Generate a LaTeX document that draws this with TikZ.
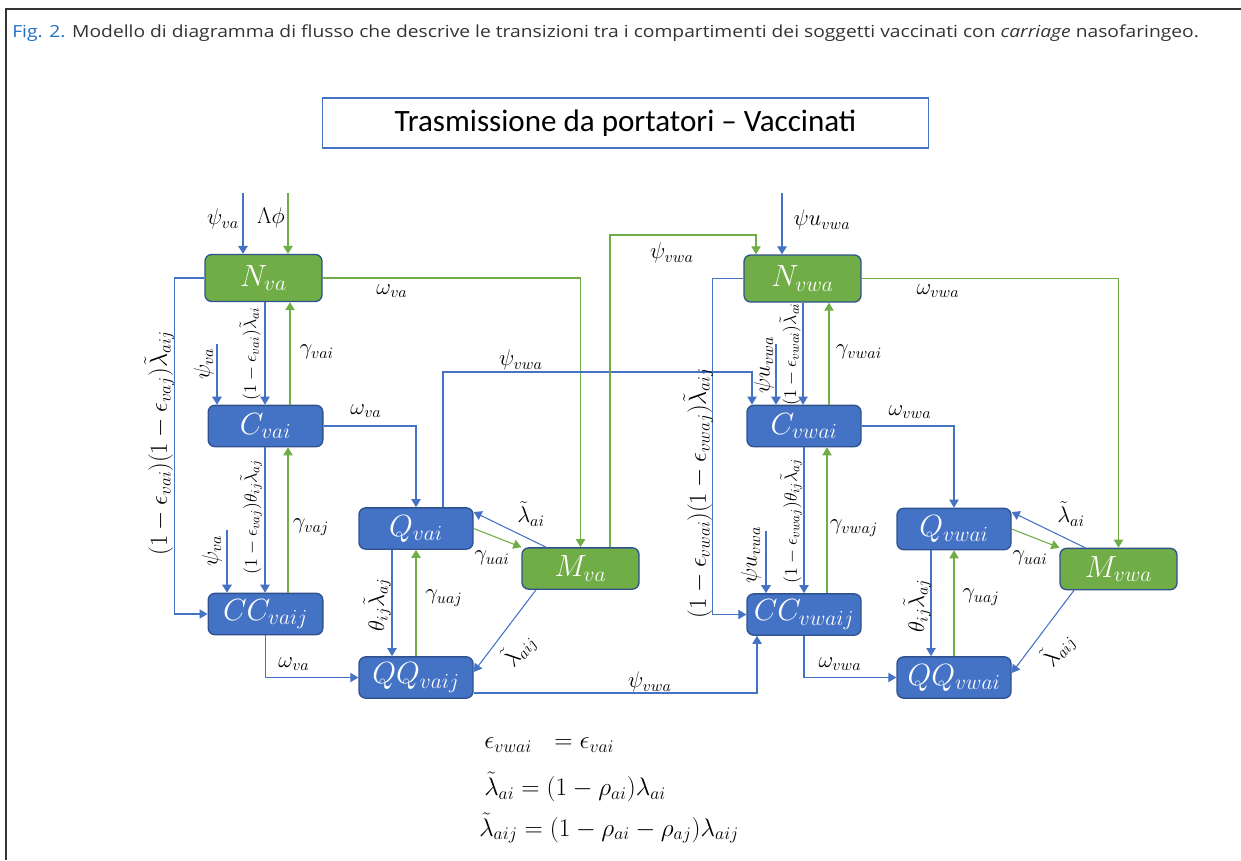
\RequirePackage{fix-cm}
\documentclass[tikz,border=0pt]{standalone}
\usepackage{fontspec}
\usetikzlibrary{arrows.meta,calc}
\newfontfamily\capfont[FakeStretch=1.155]{Open Sans}
\newfontfamily\titfont{Carlito}
\definecolor{bluec}{HTML}{4472C4}
\definecolor{greenc}{HTML}{70AD47}
\definecolor{bord}{HTML}{2F528F}
\definecolor{figblue}{HTML}{1F6FC0}
\definecolor{captxt}{HTML}{333333}
\tikzset{
 box/.style={rounded corners=5pt, draw=bord, line width=1pt, text=white, inner sep=0pt, font=\fontsize{23}{23}\selectfont, minimum height=31pt},
 bbox/.style={box, fill=bluec},
 gbox/.style={box, fill=greenc},
 tip/.style={-{Triangle[width=7pt,length=6pt]}},
 thb/.style={draw=bluec, line width=1.8pt, tip},
 thg/.style={draw=greenc, line width=1.8pt, tip},
 bl/.style={draw=bluec, line width=0.8pt, tip},
 gr/.style={draw=greenc, line width=0.8pt, tip},
 lab/.style={font=\fontsize{17}{17}\selectfont, inner sep=1pt},
 biglab/.style={font=\fontsize{18.5}{18.5}\selectfont, inner sep=1pt, rotate=90},
 slab/.style={font=\fontsize{13.5}{13.5}\selectfont, inner sep=1pt, rotate=90},
 flab/.style={font=\fontsize{19}{19}\selectfont, inner sep=0pt, anchor=west},
}
\begin{document}
\begin{tikzpicture}[x=0.75pt,y=-0.75pt]
\useasboundingbox (0,0) rectangle (1241,860);
\draw[draw=captxt, line width=1.2pt] (6,860) -- (6,9) -- (1241,9);
\node[anchor=west, inner sep=0pt, font=\capfont\fontsize{12.5}{14}\selectfont, text=captxt] (cap) at (12,33)
 {\textcolor{figblue}{Fig. 2.} Modello di diagramma di flusso che descrive le transizioni tra i compartimenti dei soggetti vaccinati con \textit{carriage} nasofaringeo.};
\node[draw=bluec, line width=0.8pt, minimum width=455pt, minimum height=37.5pt, inner sep=0pt, font=\titfont\fontsize{23.3}{23.3}\selectfont] (title) at (625.5,123) {Trasmissione da portatori – Vaccinati};

% boxes
\node[gbox, minimum width=87.75pt, minimum height=35.25pt] (Nva) at (263.5,278) {$N_{va}$};
\node[bbox, minimum width=86pt] (Cvai) at (265.5,426) {$C_{vai}$};
\node[bbox, minimum width=86pt] (CCvaij) at (265.5,614) {$CC_{vaij}$};
\node[bbox, minimum width=85.5pt] (Qvai) at (416,528.5) {$Q_{vai}$};
\node[bbox, minimum width=85.5pt] (QQvaij) at (416,677.5) {$QQ_{vaij}$};
\node[gbox, minimum width=87.75pt] (Mva) at (580.5,568.5) {$M_{va}$};
\node[gbox, minimum width=87.75pt, minimum height=35.25pt] (Nvwa) at (802.5,278.5) {$N_{vwa}$};
\node[bbox, minimum width=85.5pt] (Cvwai) at (804,426) {$C_{vwai}$};
\node[bbox, minimum width=85.5pt] (CCvwaij) at (804,614.5) {$CC_{vwaij}$};
\node[bbox, minimum width=85.5pt] (Qvwai) at (954,529) {$Q_{vwai}$};
\node[bbox, minimum width=85.5pt] (QQvwai) at (954,677.5) {$QQ_{vwai}$};
\node[gbox, minimum width=87.75pt] (Mvwa) at (1118.5,569) {$M_{vwa}$};

% ---------- left part
\coordinate (iNva1) at (243,193);
\coordinate (iNva2) at (288,193);
\draw[thb] (iNva1) -- (Nva.north -| iNva1);
\draw[thg] (iNva2) -- (Nva.north -| iNva2);
\node[lab] (l1) at (223,219) {$\psi_{va}$};
\node[lab] (l2) at (271,218) {$\Lambda\phi$};

\draw[bl] (Nva.west) -- ++(-30,0) |- (CCvaij.west);
\node[biglab] (l3) at (159,443) {$(1-\epsilon_{vai})(1-\epsilon_{vaj})\tilde{\lambda}_{aij}$};

\draw[bl] (Nva.south -| 265,0) -- (Cvai.north -| 265,0);
\node[slab] (l4) at (250,354) {$(1-\epsilon_{vai})\tilde{\lambda}_{ai}$};
\draw[gr] (Cvai.north -| 290,0) -- (Nva.south -| 290,0);
\node[lab, anchor=west] (l5) at (298,352) {$\gamma_{vai}$};
\coordinate (iC) at (217,344);
\draw[thb] (iC) -- (Cvai.north -| iC);
\node[lab, rotate=90] (l6) at (204,364) {$\psi_{va}$};

\draw[bl] (Cvai.east) -| (Qvai.north);
\node[lab] (l7) at (366,411) {$\omega_{va}$};
\draw[bl] (Cvai.south -| 265,0) -- (CCvaij.north -| 265,0);
\node[slab] (l8) at (251,517) {$(1-\epsilon_{vaj})\theta_{ij}\tilde{\lambda}_{aj}$};
\draw[gr] (CCvaij.north -| 288,0) -- (Cvai.south -| 288,0);
\node[lab] (l9) at (311,527) {$\gamma_{vaj}$};
\coordinate (iCC) at (227,530);
\draw[thb] (iCC) -- (CCvaij.north -| iCC);
\node[lab, rotate=90] (l10) at (212,551) {$\psi_{va}$};

\draw[bl] (CCvaij.south) |- (QQvaij.west);
\node[lab] (l11) at (294,664) {$\omega_{va}$};
\draw[bl] (Qvai.south -| 392,0) -- (QQvaij.north -| 392,0);
\node[lab, rotate=90] (l12) at (377,605) {$\theta_{ij}\tilde{\lambda}_{aj}$};
\draw[gr] (QQvaij.north) -- (Qvai.south);
\node[lab] (l13) at (444,598) {$\gamma_{uaj}$};

\draw[gr] (Qvai.east) -- (Mva.north west);
\node[lab] (l14) at (492,558) {$\gamma_{uai}$};
\draw[bl] (Mva.north -| 546,0) -- (Qvai.east |- 0,512);
\node[lab] (l15) at (531,514) {$\tilde{\lambda}_{ai}$};
\draw[bl] (Mva.south -| 536,0) -- (QQvaij.east |- 0,672);
\node[lab, rotate=52] (l16) at (519,650) {$\tilde{\lambda}_{aij}$};
\draw[gr] (Nva.east) -| (Mva.north);
\node[lab] (l17) at (392,291) {$\omega_{va}$};

% ---------- cross links
\draw[bl] (Qvai.north -| 443,0) |- (752,372) -- (Cvwai.north -| 752,0);
\node[lab] (l18) at (521,360) {$\psi_{vwa}$};
\draw[gr] (Mva.north -| 610,0) |- (756,235) -- (Nvwa.north -| 756,0);
\node[lab] (l19) at (672,253) {$\psi_{vwa}$};
\draw[bl] (QQvaij.east |- 0,693) -| (CCvwaij.south -| 757,0);
\node[lab] (l20) at (650,682) {$\psi_{vwa}$};

% ---------- right part
\coordinate (iNvwa) at (782,193);
\draw[thb] (iNvwa) -- (Nvwa.north -| iNvwa);
\node[lab] (r1) at (822,220) {$\psi u_{vwa}$};
\draw[bl] (Nvwa.west) -- ++(-31,0) |- (CCvwaij.west);
\node[biglab] (r2) at (698,493) {$(1-\epsilon_{vwai})(1-\epsilon_{vwaj})\tilde{\lambda}_{aij}$};
\draw[bl] (Nvwa.south -| 803,0) -- (Cvwai.north -| 803,0);
\node[slab] (r3) at (790,354) {$(1-\epsilon_{vwai})\tilde{\lambda}_{ai}$};
\draw[gr] (Cvwai.north -| 829,0) -- (Nvwa.south -| 829,0);
\node[lab] (r4) at (859,352) {$\gamma_{vwai}$};
\coordinate (iCw) at (776,344);
\draw[thb] (iCw) -- (Cvwai.north -| iCw);
\node[lab, rotate=90] (r5) at (764,365) {$\psi u_{vwa}$};

\draw[bl] (Cvwai.east) -| (Qvwai.north);
\node[lab] (r6) at (910,412) {$\omega_{vwa}$};
\draw[bl] (Cvwai.south -| 804,0) -- (CCvwaij.north -| 804,0);
\node[slab] (r7) at (791,521) {$(1-\epsilon_{vwaj})\theta_{ij}\tilde{\lambda}_{aj}$};
\draw[gr] (CCvwaij.north -| 827,0) -- (Cvwai.south -| 827,0);
\node[lab] (r8) at (854,528) {$\gamma_{vwaj}$};
\coordinate (iCCw) at (766,531);
\draw[thb] (iCCw) -- (CCvwaij.north -| iCCw);
\node[lab, rotate=90] (r9) at (751,555) {$\psi u_{vwa}$};

\draw[bl] (CCvwaij.south) |- (QQvwai.west);
\node[lab] (r10) at (840,664) {$\omega_{vwa}$};
\draw[bl] (Qvwai.south -| 931,0) -- (QQvwai.north -| 931,0);
\node[lab, rotate=90] (r11) at (917,606) {$\theta_{ij}\tilde{\lambda}_{aj}$};
\draw[gr] (QQvwai.north) -- (Qvwai.south);
\node[lab] (r12) at (981,597) {$\gamma_{uaj}$};
\draw[gr] (Qvwai.east) -- (Mvwa.north west);
\node[lab] (r13) at (1030,558) {$\gamma_{uai}$};
\draw[bl] (Mvwa.north -| 1085,0) -- (Qvwai.east |- 0,512);
\node[lab] (r14) at (1071,514) {$\tilde{\lambda}_{ai}$};
\draw[bl] (Mvwa.south -| 1074,0) -- (QQvwai.east |- 0,673);
\node[lab, rotate=53] (r15) at (1058,650) {$\tilde{\lambda}_{aij}$};
\draw[gr] (Nvwa.east) -| (Mvwa.north);
\node[lab] (r16) at (938,291) {$\omega_{vwa}$};

% ---------- formulas
\node[flab] (f1) at (484,745) {$\epsilon_{vwai}\ \ = \epsilon_{vai}$};
\node[flab] (f2) at (484,787) {$\tilde{\lambda}_{ai} = (1-\rho_{ai})\lambda_{ai}$};
\node[flab] (f3) at (479,828) {$\tilde{\lambda}_{aij} = \bigl(1-\rho_{ai}-\rho_{aj}\bigr)\lambda_{aij}$};
\end{tikzpicture}
\end{document}
